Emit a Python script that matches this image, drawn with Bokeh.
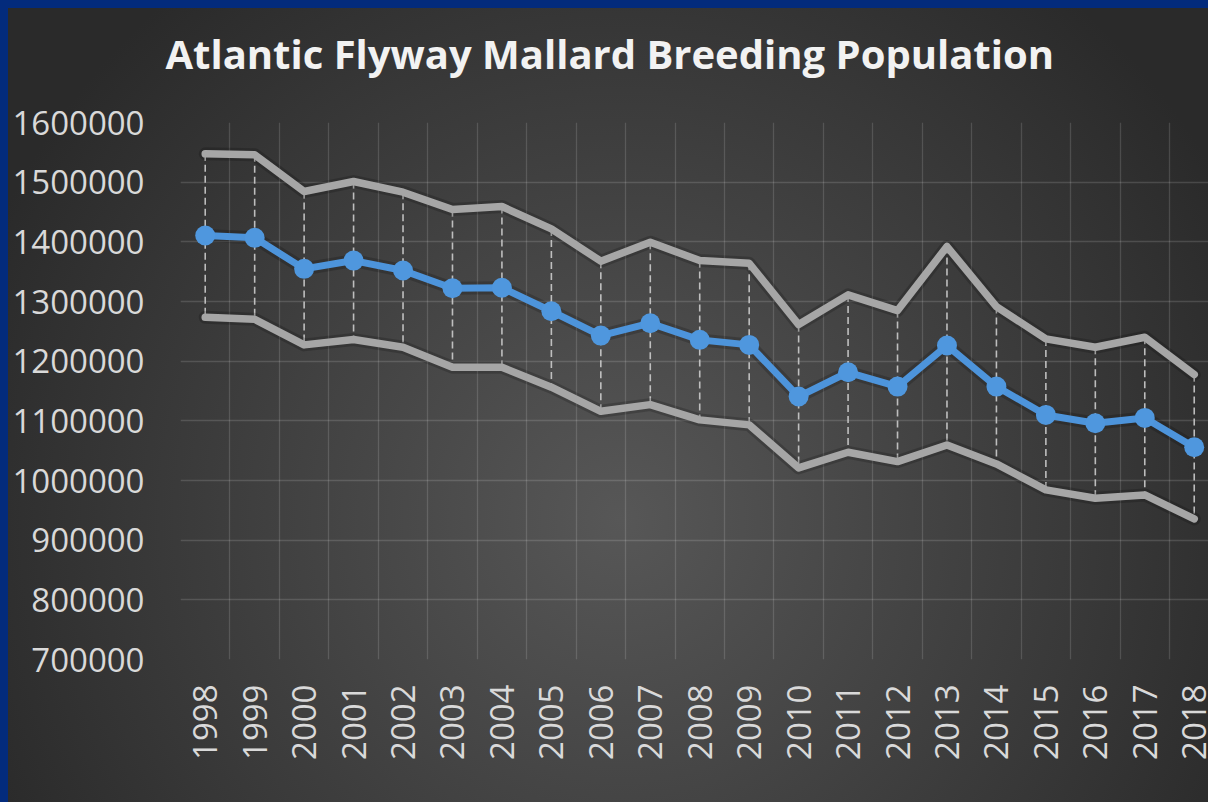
from bokeh.plotting import figure
from bokeh.models import FixedTicker, ColumnDataSource, Title
from bokeh.embed import file_html
from bokeh.resources import INLINE
import math

# ---- data ----
years = list(range(1998, 2019))
year_labels = [str(y) for y in years]
upper = [1547500, 1545800, 1484300, 1501100, 1483200, 1454200, 1459200,
         1421700, 1367500, 1399400, 1368600, 1364100, 1261400, 1311100,
         1284800, 1392100, 1291500, 1237300, 1223300, 1240100, 1177500]
estimate = [1410600, 1406700, 1354700, 1368600, 1351900, 1322200, 1323000,
            1283700, 1242900, 1263600, 1235700, 1227300, 1140700, 1181400,
            1157400, 1226200, 1157400, 1109900, 1095900, 1104900, 1055700]
lower = [1273600, 1270200, 1227300, 1236200, 1223300, 1189800, 1189800,
         1156300, 1116000, 1127200, 1101600, 1093200, 1021100, 1047300,
         1031700, 1059600, 1027800, 984200, 970200, 975800, 935600]
y_ticks = [700000, 800000, 900000, 1000000, 1100000, 1200000, 1300000,
           1400000, 1500000, 1600000]
y_labels = ["700000", "800000", "900000", "1000000", "1100000", "1200000",
            "1300000", "1400000", "1500000", "1600000"]
title_text = "Atlantic Flyway Mallard Breeding Population"

src = ColumnDataSource(dict(year=years, upper=upper, est=estimate, lower=lower))

W, H = 1208, 800
FRAME_L, FRAME_T, FRAME_B = 180, 122, 659
px_per_year = 49.45
x_end = 1997.5 + (W - FRAME_L) / px_per_year

p = figure(width=W, height=H, x_range=(1997.5, x_end), y_range=(700000, 1600000),
           output_backend="svg", toolbar_location=None)
p.min_border_left = FRAME_L
p.min_border_right = 0
p.min_border_top = FRAME_T
p.min_border_bottom = H - FRAME_B
p.background_fill_alpha = 0
p.border_fill_alpha = 0
p.outline_line_color = None

# spacer between frame and title (inner), then the title (outer)
p.add_layout(Title(text=" ", text_font_size="1px", standoff=22), "above")
p.add_layout(Title(text=title_text, text_font="Open Sans", text_font_style="bold",
                   text_font_size="40px", text_color="#f2f2f2", align="left",
                   offset=-15, standoff=34), "above")

# axes
for ax in (p.xaxis[0], p.yaxis[0]):
    ax.axis_line_color = None
    ax.major_tick_line_color = None
    ax.minor_tick_line_color = None
    ax.major_label_text_font = "Open Sans"
    ax.major_label_text_font_size = "33px"
    ax.major_label_text_color = "#d9d9d9"

p.xaxis.ticker = FixedTicker(ticks=years)
p.xaxis.major_label_overrides = {y: s for y, s in zip(years, year_labels)}
p.xaxis.major_label_orientation = math.pi / 2
p.xaxis.major_label_standoff = 19

p.yaxis.ticker = FixedTicker(ticks=y_ticks)
p.yaxis.major_label_overrides = {v: s for v, s in zip(y_ticks, y_labels)}
p.yaxis.major_label_standoff = 30

# grids
p.xgrid.ticker = FixedTicker(ticks=[y - 0.5 for y in years] + [years[-1] + 0.5])
p.ygrid.ticker = FixedTicker(ticks=y_ticks)
for g in (p.xgrid[0], p.ygrid[0]):
    g.grid_line_color = "white"
    g.grid_line_alpha = 0.14
    g.grid_line_width = 1.3

# drop lines
p.segment(x0="year", y0="upper", x1="year", y1="lower", source=src,
          line_color="#cccccc", line_width=1.6, line_dash="7 4", line_alpha=0.9)

# soft shadows
for col in ("upper", "lower", "est"):
    p.line(x="year", y=col, source=src, line_color="black", line_alpha=0.18,
           line_width=13, line_join="round", line_cap="round")

p.line(x="year", y="upper", source=src, line_color="#a6a6a6", line_width=7.5,
       line_join="round", line_cap="round")
p.line(x="year", y="lower", source=src, line_color="#a6a6a6", line_width=7.5,
       line_join="round", line_cap="round")
p.line(x="year", y="est", source=src, line_color="#4d94db", line_width=7,
       line_join="round", line_cap="round")
p.scatter(x="year", y="est", source=src, size=20, fill_color="#4f97de",
          line_color=None)

css = ("<style>html{background:"
       "linear-gradient(#032b7c,#032b7c) 0 0/100% 8px no-repeat,"
       "linear-gradient(#032b7c,#032b7c) 0 0/8px 100% no-repeat,"
       "radial-gradient(circle at 620px 520px,#575757 0px,#2a2a2a 690px);}"
       "</style>")

open("out.html", "w").write(file_html(p, INLINE).replace("</head>", css + "</head>", 1))
